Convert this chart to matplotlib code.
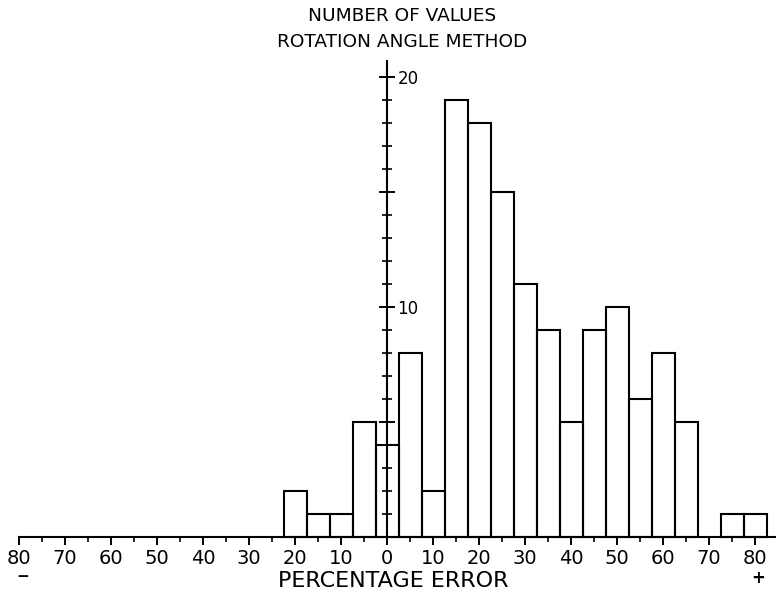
import matplotlib
matplotlib.use("Agg")
import matplotlib.pyplot as plt
from matplotlib.ticker import FixedLocator, FuncFormatter

# bin centres (percentage error, 5% bins) and counts
bin_centers = [-20, -15, -10, -5, 0, 5, 10, 15, 20, 25, 30, 35, 40, 45, 50, 55, 60, 65, 70, 75, 80]
counts = [2, 1, 1, 5, 4, 8, 2, 19, 18, 15, 11, 9, 5, 9, 10, 6, 8, 5, 0, 1, 1]

x_major = list(range(-80, 81, 10))
x_minor = list(range(-75, 81, 10))
y_major = [5, 10, 15, 20]
y_minor = list(range(1, 21))
y_labeled = [10, 20]

fig = plt.figure(figsize=(7.76, 5.94), dpi=100)
ax = fig.add_axes([0, 0, 1, 1])
ax.set_xlim(-387 / 4.6, (776 - 387) / 4.6)
ax.set_ylim(-57 / 23, 537 / 23)

bars_x = [c for c, n in zip(bin_centers, counts) if n > 0]
bars_h = [n for n in counts if n > 0]
ax.bar(bars_x, bars_h, width=5, fill=False, edgecolor='black', linewidth=1.5)

# axes through the origin
ax.spines['top'].set_visible(False)
ax.spines['left'].set_visible(False)
ax.spines['bottom'].set_position(('data', 0))
ax.spines['bottom'].set_bounds(-80, 85)
ax.spines['right'].set_position(('data', 0))
ax.spines['right'].set_bounds(0, 20.7)
for s in ('bottom', 'right'):
    ax.spines[s].set_linewidth(1.5)

ax.xaxis.set_major_locator(FixedLocator(x_major))
ax.xaxis.set_minor_locator(FixedLocator(x_minor))
ax.xaxis.set_major_formatter(FuncFormatter(lambda v, p: '%d' % abs(round(v))))
ax.tick_params(axis='x', which='major', direction='out', length=6, width=1.4,
               pad=3, labelsize=14)
ax.tick_params(axis='x', which='minor', direction='out', length=3.5, width=1.2)

ax.yaxis.tick_right()
ax.yaxis.set_major_locator(FixedLocator(y_major))
ax.yaxis.set_minor_locator(FixedLocator(y_minor))
ax.yaxis.set_major_formatter(FuncFormatter(lambda v, p: '%d' % v if round(v) in y_labeled else ''))
ax.tick_params(axis='y', which='major', direction='inout', length=11, width=1.4,
               pad=2, labelsize=12)
ax.tick_params(axis='y', which='minor', direction='inout', length=7, width=1.2)

ax.text(3.3, 22.1, 'NUMBER OF VALUES\nROTATION ANGLE METHOD', ha='center', va='center',
        fontsize=13.3, linespacing=1.55)
ax.text(1.3, -1.91, 'PERCENTAGE ERROR', ha='center', va='center', fontsize=16)
ax.text(-79.1, -1.72, '\u2212', ha='center', va='center', fontsize=11, fontweight='bold')
ax.text(80.7, -1.8, '+', ha='center', va='center', fontsize=12, fontweight='bold')

fig.savefig('out.png', dpi=100)
